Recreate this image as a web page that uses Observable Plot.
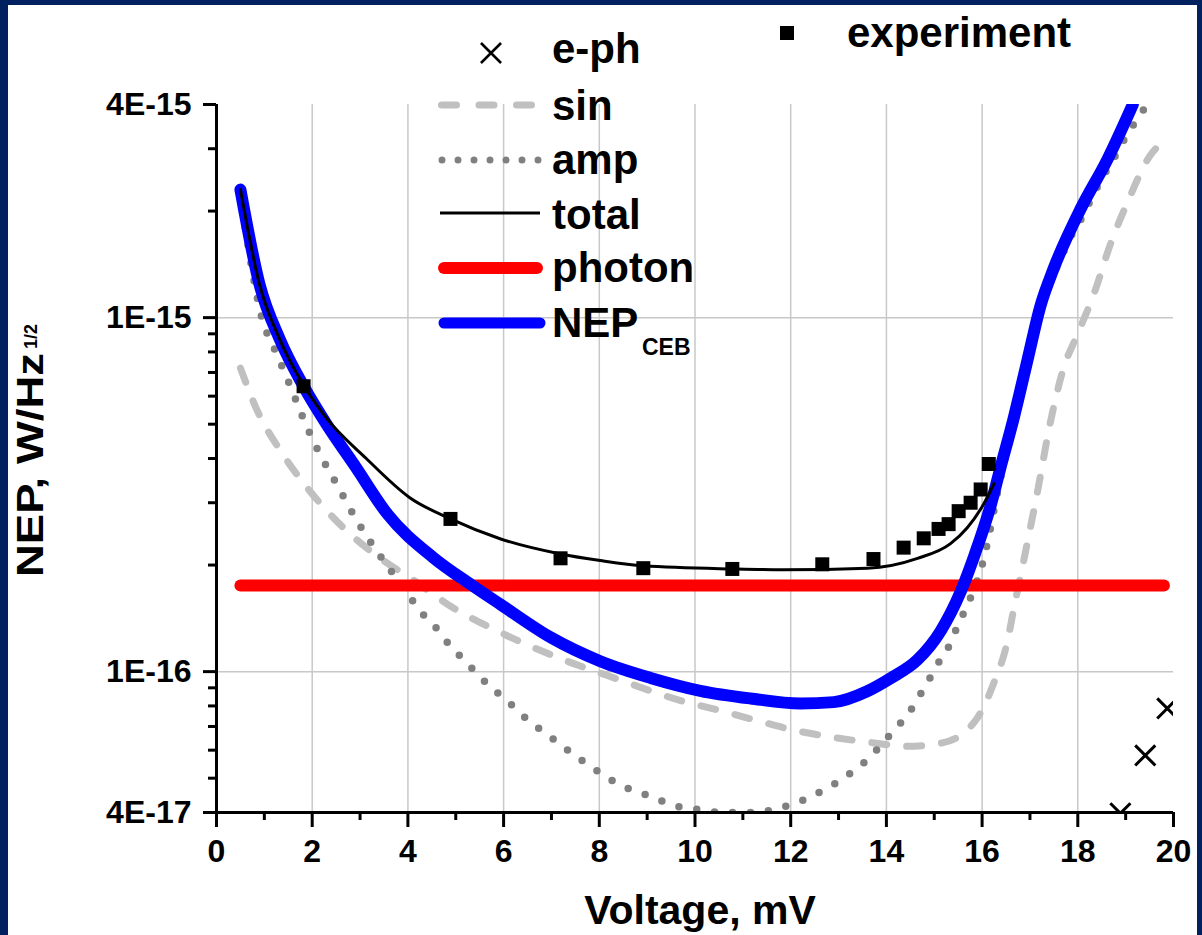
<!DOCTYPE html>
<html><head><meta charset="utf-8">
<script src="https://cdn.jsdelivr.net/npm/d3@7"></script>
<script src="https://cdn.jsdelivr.net/npm/@observablehq/plot@0.6"></script>
<style>
html,body{margin:0;padding:0;background:#002060;width:1202px;height:935px;overflow:hidden;}
#wrap{position:absolute;left:8px;top:5px;width:1189px;height:930px;background:#fff;overflow:hidden;}
</style></head><body><div id="wrap"></div>
<script>
// ---- tick data ----
const xMajor = [0,2,4,6,8,10,12,14,16,18,20];
const xMinor = [1,3,5,7,9,11,13,15,17,19];
const xGrid = [2,4,6,8,10,12,14,16,18];
const yMajor = [4e-15,1e-15,1e-16,4e-17];
const yTickLabels = ["4E-15","1E-15","1E-16","4E-17"];
const yMinor = [3e-15,2e-15,9e-16,8e-16,7e-16,6e-16,5e-16,4e-16,3e-16,2e-16,9e-17,8e-17,7e-17,6e-17,5e-17];
const yGrid = [1e-15,1e-16];

// ---- series ----
const cebV   = [0.5,0.9,1.32,1.82,2.3,2.9,3.57,4.53,5.35,5.93,6.98,8.02,9.07,10.11,11.16,12.2,12.9,13.6,14.1,14.65,15.13,15.55,15.85,16.18,16.38,16.66,16.95,17.22,17.49,18.06,18.62,19.15];
const cebNEP = [2.3e-15,1.24e-15,8.7e-16,6.4e-16,5.0e-16,3.8e-16,2.79e-16,2.1e-16,1.75e-16,1.55e-16,1.25e-16,1.07e-16,9.6e-17,8.83e-17,8.4e-17,8.13e-17,8.2e-17,8.8e-17,9.6e-17,1.08e-16,1.3e-16,1.68e-16,2.15e-16,2.95e-16,3.75e-16,5.2e-16,7.6e-16,1.08e-15,1.37e-15,2.03e-15,2.8e-15,4.0e-15];

const totalV   = [0.5,0.9,1.32,1.82,2.3,3.13,4.04,4.89,5.94,7.19,8.02,8.92,10.8,11.85,13.6,14.65,15.34,15.69,16.03,16.25];
const totalNEP = [2.3e-15,1.24e-15,8.7e-16,6.45e-16,5.2e-16,4.0e-16,3.1e-16,2.7e-16,2.37e-16,2.15e-16,2.06e-16,1.99e-16,1.95e-16,1.94e-16,1.96e-16,2.09e-16,2.3e-16,2.55e-16,2.97e-16,3.4e-16];

const sinV   = [0.5,0.86,1.34,1.9,2.65,3.49,4.1,4.96,5.73,6.56,7.33,8.17,8.93,9.7,10.53,11.3,12.1,12.9,13.7,14.44,15.19,15.9,16.24,16.53,16.66,16.87,17.16,17.43,17.7,17.99,18.33,18.68,19.04,19.52,19.8];
const sinNEP = [7.2e-16,5.43e-16,4.2e-16,3.3e-16,2.55e-16,2.06e-16,1.82e-16,1.51e-16,1.33e-16,1.18e-16,1.07e-16,9.75e-17,8.96e-17,8.28e-17,7.76e-17,7.27e-17,6.82e-17,6.52e-17,6.3e-17,6.15e-17,6.3e-17,7.4e-17,9.25e-17,1.22e-16,1.5e-16,2.06e-16,3.24e-16,5.09e-16,7.18e-16,8.95e-16,1.16e-15,1.61e-15,2.12e-15,2.88e-15,3.15e-15];

const ampV   = [0.6,0.9,1.3,1.57,1.84,2.15,2.51,2.9,3.32,3.57,4.05,4.3,4.61,4.89,5.2,5.52,5.87,6.21,6.52,6.88,7.21,7.54,7.88,8.19,8.55,8.9,9.22,9.55,9.9,10.22,10.53,11.2,11.58,11.9,12.25,12.56,12.9,13.24,13.59,13.88,14.19,14.46,14.67,14.88,15.07,15.28,15.44,15.59,16.0,16.4,16.8,17.2,17.5,17.64,17.91,18.1,18.27,18.43,18.62,18.83,19.0,19.2,19.45];
const ampNEP = [1.8e-15,1.06e-15,7.67e-16,6.27e-16,5.09e-16,4.14e-16,3.39e-16,2.72e-16,2.22e-16,1.99e-16,1.62e-16,1.46e-16,1.32e-16,1.18e-16,1.07e-16,9.62e-17,8.72e-17,7.96e-17,7.27e-17,6.69e-17,6.19e-17,5.73e-17,5.33e-17,5.0e-17,4.71e-17,4.53e-17,4.36e-17,4.19e-17,4.11e-17,4.06e-17,4.0e-17,4.0e-17,4.06e-17,4.17e-17,4.33e-17,4.53e-17,4.8e-17,5.16e-17,5.62e-17,6.19e-17,6.9e-17,7.61e-17,8.45e-17,9.44e-17,1.05e-16,1.16e-16,1.3e-16,1.44e-16,2.0e-16,3.6e-16,6.2e-16,1.05e-15,1.33e-15,1.47e-15,1.75e-15,1.93e-15,2.15e-15,2.37e-15,2.63e-15,2.94e-15,3.24e-15,3.57e-15,4.0e-15];

const photonV   = [0.5,19.8];
const photonNEP = [1.75e-16,1.75e-16];

const expV   = [1.82,4.89,7.19,8.92,10.78,12.66,13.73,14.36,14.78,15.09,15.3,15.51,15.76,15.97,16.14];
const expNEP = [6.4e-16,2.7e-16,2.09e-16,1.96e-16,1.95e-16,2.01e-16,2.08e-16,2.24e-16,2.38e-16,2.53e-16,2.61e-16,2.84e-16,3.0e-16,3.27e-16,3.86e-16];

const ephV   = [18.89,19.41,19.87];
const ephNEP = [3.98e-17,5.8e-17,7.87e-17];

const legendLabels = ["e-ph","sin","amp","total","photon","NEP","experiment"];
const legendSub = "CEB";
const xTitle = "Voltage, mV";
const yTitle = "NEP, W/Hz";
const yTitleSup = "1/2";

const pts = (V, N) => V.map((v, i) => ({v, nep: N[i]}));
const labelMap = new Map(yMajor.map((d, i) => [d, yTickLabels[i]]));
const FONT = "'Liberation Sans', Arial, Helvetica, sans-serif";

const chart = Plot.plot({
  width: 1189, height: 930,
  marginLeft: 208, marginRight: 24, marginTop: 99, marginBottom: 123,
  x: {domain: [0, 20]},
  y: {type: "log", domain: [4e-17, 4e-15]},
  style: {fontFamily: FONT, fontSize: "32px", fontWeight: "bold", background: "white", color: "black", overflow: "visible"},
  marks: [
    Plot.gridX(xGrid, {stroke: "#c8c8c8", strokeOpacity: 1, strokeWidth: 1.5}),
    Plot.gridY(yGrid, {stroke: "#c8c8c8", strokeOpacity: 1, strokeWidth: 1.5}),
    Plot.line(pts(sinV, sinNEP), {x: "v", y: "nep", stroke: "#c0c0c0", strokeWidth: 7, strokeDasharray: "15,20", strokeLinecap: "round", curve: "monotone-x", clip: true}),
    Plot.line(pts(ampV, ampNEP), {x: "v", y: "nep", stroke: "#808080", strokeWidth: 7.5, strokeDasharray: "0,18", strokeLinecap: "round", curve: "monotone-x", clip: true}),
    Plot.line(pts(photonV, photonNEP), {x: "v", y: "nep", stroke: "#ff0000", strokeWidth: 12, strokeLinecap: "round"}),
    Plot.line(pts(cebV, cebNEP), {x: "v", y: "nep", stroke: "#0000ff", strokeWidth: 12, strokeLinecap: "round", curve: "monotone-x", clip: true}),
    Plot.line(pts(totalV, totalNEP), {x: "v", y: "nep", stroke: "#000", strokeWidth: 3, curve: "monotone-x"}),
    Plot.dot(pts(expV, expNEP), {x: "v", y: "nep", symbol: "square", r: 7.9, fill: "#000", stroke: "none"}),
    Plot.dot(pts(ephV, ephNEP), {x: "v", y: "nep", symbol: "times", r: 9.2, stroke: "#000", strokeWidth: 3, clip: true}),
    Plot.axisX({ticks: xMajor, tickSize: 15, tickPadding: 12, strokeWidth: 3, tickFormat: d => String(d), label: null}),
    Plot.axisX({ticks: xMinor, tickSize: 8, strokeWidth: 3, tickFormat: () => "", label: null}),
    Plot.axisY({ticks: yMajor, tickSize: 13, tickPadding: 12, strokeWidth: 3, tickFormat: d => labelMap.get(d), label: null}),
    Plot.axisY({ticks: yMinor, tickSize: 8, strokeWidth: 3, tickFormat: () => "", label: null}),
    Plot.ruleX([0], {stroke: "#000", strokeWidth: 3}),
    Plot.ruleY([4e-17], {stroke: "#000", strokeWidth: 3})
  ]
});
document.getElementById("wrap").appendChild(chart);

const svgEl = chart.tagName.toLowerCase() === "svg" ? chart : chart.querySelector("svg");
const svg = d3.select(svgEl);
const g = svg.append("g").attr("transform", "translate(-8,-5)")
  .attr("font-family", FONT).attr("font-weight", "bold").attr("fill", "#000").attr("text-anchor", "start");

// legend samples
g.append("path").attr("d", d3.symbol(d3.symbolTimes, 265)()).attr("transform", "translate(491,53)")
  .attr("fill", "none").attr("stroke", "#000").attr("stroke-width", 2.6);
g.append("rect").attr("x", 780).attr("y", 26).attr("width", 14).attr("height", 14).attr("fill", "#000");
g.append("line").attr("x1", 441.5).attr("x2", 531.5).attr("y1", 105).attr("y2", 105)
  .attr("stroke", "#c0c0c0").attr("stroke-width", 7).attr("stroke-linecap", "round").attr("stroke-dasharray", "15,22.5");
g.append("line").attr("x1", 442).attr("x2", 538.5).attr("y1", 160).attr("y2", 160)
  .attr("stroke", "#808080").attr("stroke-width", 7).attr("stroke-linecap", "round").attr("stroke-dasharray", "0,16");
g.append("line").attr("x1", 440).attr("x2", 540).attr("y1", 213).attr("y2", 213)
  .attr("stroke", "#000").attr("stroke-width", 3);
g.append("line").attr("x1", 444).attr("x2", 537).attr("y1", 268).attr("y2", 268)
  .attr("stroke", "#ff0000").attr("stroke-width", 12).attr("stroke-linecap", "round");
g.append("line").attr("x1", 444).attr("x2", 540).attr("y1", 323).attr("y2", 323)
  .attr("stroke", "#0000ff").attr("stroke-width", 11).attr("stroke-linecap", "round");

// legend texts
const baselines = [63, 120, 174, 229, 282, 337];
legendLabels.slice(0, 6).forEach((t, i) => {
  g.append("text").attr("x", 552).attr("y", baselines[i]).attr("font-size", 42).text(t);
});
g.append("text").attr("x", 642).attr("y", 355).attr("font-size", 23).text(legendSub);
g.append("text").attr("x", 847).attr("y", 47).attr("font-size", 42).text(legendLabels[6]);

// axis titles
g.append("text").attr("x", 700).attr("y", 924).attr("text-anchor", "middle").attr("font-size", 41).text(xTitle);
g.append("text").attr("transform", "translate(43,577) rotate(-90)").attr("font-size", 36)
  .attr("textLength", 224).attr("lengthAdjust", "spacingAndGlyphs").text(yTitle);
g.append("text").attr("transform", "translate(37,349) rotate(-90)").attr("font-size", 18).text(yTitleSup);
</script></body></html>
